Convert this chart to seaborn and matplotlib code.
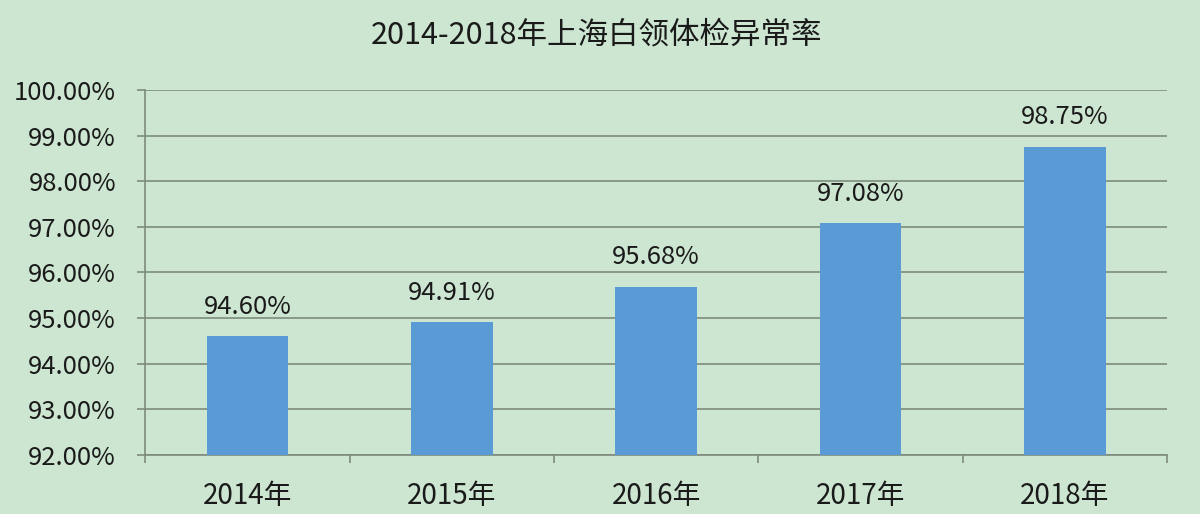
import matplotlib
matplotlib.use("Agg")
import matplotlib.pyplot as plt
import seaborn as sns
import pandas as pd
from matplotlib.ticker import FuncFormatter, FixedLocator

years = ["2014年", "2015年", "2016年", "2017年", "2018年"]
rates = [94.60, 94.91, 95.68, 97.08, 98.75]
yticks = [92, 93, 94, 95, 96, 97, 98, 99, 100]
title = "2014-2018年上海白领体检异常率"

BG = "#cde6d1"
BAR = "#5b9bd5"
GRID = "#7d8b7e"

sns.set_theme(style="white")
plt.rcParams['font.family'] = ['Noto Sans CJK SC', 'DejaVu Sans']

df = pd.DataFrame({"year": years, "rate": rates})

fig = plt.figure(figsize=(12, 5.14), dpi=100)
fig.patch.set_facecolor(BG)
ax = fig.add_axes([0.121, 0.1148, 0.8515, 0.7102])
ax.set_facecolor(BG)

sns.barplot(data=df, x="year", y="rate", color=BAR, width=0.4, saturation=1,
            edgecolor="none", linewidth=0, ax=ax, zorder=3)

ax.set_ylim(92, 100)
ax.set_xlim(-0.5, len(years) - 0.5)
ax.yaxis.set_major_locator(FixedLocator(yticks))
ax.yaxis.set_major_formatter(FuncFormatter(lambda v, p: f"{v:.2f}%"))
ax.grid(axis="y", color=GRID, linewidth=1.2, zorder=0)
ax.set_axisbelow(True)

for i, r in enumerate(rates):
    ax.annotate(f"{r:.2f}%", (i, r), xytext=(0, 12), textcoords="offset points",
                ha="center", va="bottom", fontsize=18.5, color="#1a1a1a")

ax.set_xlabel(""); ax.set_ylabel("")
for s in ["top", "right"]:
    ax.spines[s].set_visible(False)
for s in ["left", "bottom"]:
    ax.spines[s].set_color(GRID); ax.spines[s].set_linewidth(1.2)

# x ticks at category boundaries, labels centred
ax.set_xticks([i - 0.5 for i in range(len(years) + 1)], minor=False)
ax.set_xticklabels([""] * (len(years) + 1))
ax.set_xticks(range(len(years)), minor=True)
ax.set_xticklabels(years, minor=True, fontsize=20, color="#1a1a1a")
ax.tick_params(axis="x", which="major", length=6, width=1.2, color=GRID, direction="out", bottom=True)
ax.tick_params(axis="x", which="minor", length=0, pad=19)
ax.tick_params(axis="y", length=6, width=1.2, color=GRID, direction="out", left=True,
               labelsize=18.5, labelcolor="#1a1a1a", pad=15)

fig.suptitle(title, x=0.497, y=0.963, fontsize=22, color="#1a1a1a")

fig.savefig("out.png", dpi=100, facecolor=BG)
